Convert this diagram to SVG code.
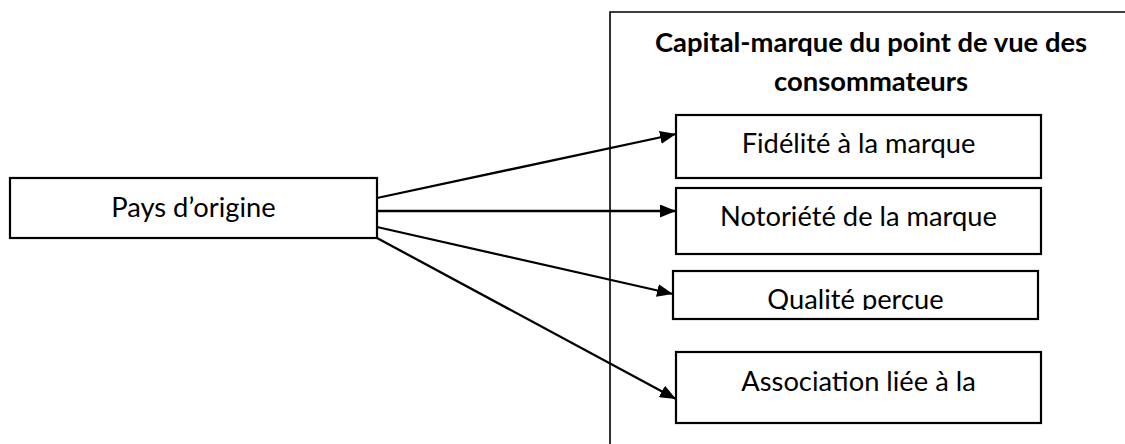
<svg xmlns="http://www.w3.org/2000/svg" width="1125" height="444" viewBox="0 0 1125 444">
<style>
.box{fill:#fff;stroke:#000;stroke-width:2.2}
.t{font-family:Lato,"Liberation Sans",sans-serif;font-size:27.3px;fill:#000;text-anchor:middle}
.b{font-weight:bold;font-size:27.4px}
.c{stroke:#000;stroke-width:2.3;fill:none;marker-end:url(#ah)}
</style>
<defs>
<marker id="ah" markerUnits="userSpaceOnUse" markerWidth="16" markerHeight="13" refX="16" refY="6.5" orient="auto">
<path d="M0,0 L16,6.5 L0,13 Z" fill="#000"/>
</marker>
<clipPath id="qc"><rect x="673" y="271" width="366" height="39"/></clipPath>
</defs>
<g id="container">
<path d="M610,444 L610,12 L1125,12" fill="none" stroke="#000" stroke-width="1.6"/>
<text class="t b" x="871" y="52">Capital-marque du point de vue des</text>
<text class="t b" x="871" y="91">consommateurs</text>
</g>
<g id="connectors">
<line class="c" x1="377" y1="198" x2="676" y2="134"/>
<line class="c" x1="377" y1="211" x2="676" y2="211"/>
<line class="c" x1="377" y1="227" x2="673" y2="294"/>
<line class="c" x1="377" y1="238" x2="676" y2="399"/>
</g>
<g id="pays">
<rect class="box" x="10" y="178" width="367" height="60"/>
<text class="t" x="193.5" y="217">Pays d’origine</text>
</g>
<g id="fidelite">
<rect class="box" x="676" y="115" width="365" height="63"/>
<text class="t" x="858.5" y="153">Fidélité à la marque</text>
</g>
<g id="notoriete">
<rect class="box" x="676" y="188" width="365" height="66"/>
<text class="t" x="858.5" y="226">Notoriété de la marque</text>
</g>
<g id="qualite">
<rect class="box" x="673" y="271" width="365" height="48"/>
<text class="t" x="855.5" y="309" clip-path="url(#qc)">Qualité perçue</text>
</g>
<g id="association">
<rect class="box" x="676" y="352" width="365" height="71"/>
<text class="t" x="858.5" y="391">Association liée à la</text>
</g>
</svg>
